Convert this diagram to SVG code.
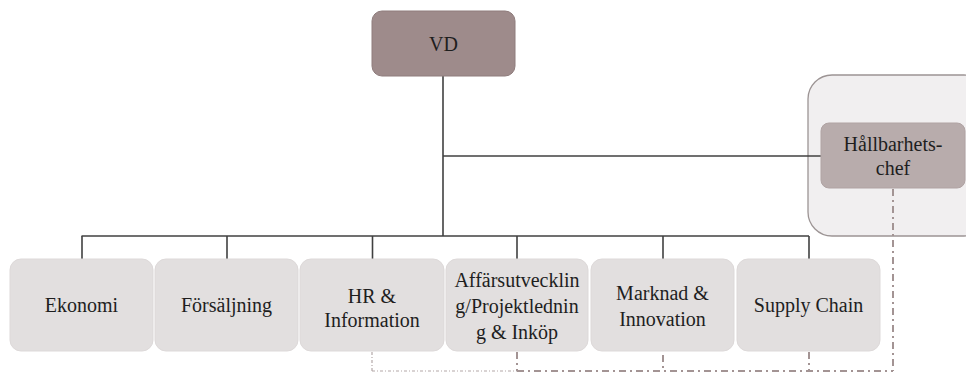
<svg xmlns="http://www.w3.org/2000/svg" width="966" height="374" viewBox="0 0 966 374">
  <defs>
    <style>
      text { font-family: "Liberation Serif", "Times New Roman", serif; font-size: 20px; fill: #1e1e1e; text-anchor: middle; }
      .unit { fill: #e2dfdf; stroke: #ddd9d9; stroke-width: 1; }
      .head { fill: #9e8b8b; stroke: #8f7d7d; stroke-width: 1; }
      .staff { fill: #b8acac; stroke: #b0a3a3; stroke-width: 1; }
      .panel { fill: #f1eff0; stroke: #9c9494; stroke-width: 1.3; }
      .solid { stroke: #404040; stroke-width: 1.6; fill: none; }
      .dotted { stroke: #a39494; stroke-width: 2; fill: none; stroke-dasharray: 7 4 2 4; }
      .fine { stroke: #b3a8a8; stroke-width: 1.2; fill: none; stroke-dasharray: 3 2 1 2; }
    </style>
  </defs>

  <!-- staff panel behind the sustainability role -->
  <g id="panel">
    <rect class="panel" x="808" y="75" width="180" height="161" rx="24"/>
  </g>

  <g id="connectors">
    <!-- reporting lines -->
    <line class="solid" x1="443" y1="76" x2="443" y2="236"/>
    <line class="solid" x1="443" y1="156" x2="821" y2="156"/>
    <line class="solid" x1="81.5" y1="236" x2="809" y2="236"/>
    <line class="solid" x1="82" y1="236" x2="82" y2="259"/>
    <line class="solid" x1="227" y1="236" x2="227" y2="259"/>
    <line class="solid" x1="372.5" y1="236" x2="372.5" y2="259"/>
    <line class="solid" x1="517" y1="236" x2="517" y2="259"/>
    <line class="solid" x1="663" y1="236" x2="663" y2="259"/>
    <line class="solid" x1="809" y1="236" x2="809" y2="259"/>
    <!-- functional lines to the sustainability role -->
    <line class="dotted" x1="893" y1="189" x2="893" y2="371"/>
    <line class="fine" x1="372" y1="352" x2="372" y2="371"/>
    <line class="fine" x1="372" y1="371" x2="517" y2="371"/>
    <line class="dotted" x1="517" y1="371" x2="893" y2="371"/>
    <line class="dotted" x1="517" y1="352" x2="517" y2="371"/>
    <line class="dotted" x1="663" y1="355" x2="663" y2="371"/>
    <line class="dotted" x1="809" y1="352" x2="809" y2="371"/>
  </g>

  <g id="vd">
    <rect class="head" x="372" y="11" width="143" height="65" rx="10"/>
    <text x="443.5" y="51">VD</text>
  </g>

  <g id="hallbarhetschef">
    <rect class="staff" x="821" y="123" width="144" height="65" rx="8"/>
    <text x="893" y="151">Hållbarhets-</text>
    <text x="893" y="175">chef</text>
  </g>

  <g id="ekonomi">
    <rect class="unit" x="10" y="259" width="143" height="92" rx="11"/>
    <text x="81.5" y="312">Ekonomi</text>
  </g>

  <g id="forsaljning">
    <rect class="unit" x="155" y="259" width="143" height="92" rx="11"/>
    <text x="226.5" y="312">Försäljning</text>
  </g>

  <g id="hr-information">
    <rect class="unit" x="300" y="259" width="144" height="92" rx="11"/>
    <text x="372" y="303">HR &amp;</text>
    <text x="372" y="327">Information</text>
  </g>

  <g id="affarsutveckling">
    <rect class="unit" x="446" y="259" width="142" height="92" rx="11"/>
    <text x="517" y="287">Affärsutvecklin</text>
    <text x="517" y="313">g/Projektlednin</text>
    <text x="517" y="339">g &amp; Inköp</text>
  </g>

  <g id="marknad-innovation">
    <rect class="unit" x="591" y="259" width="143" height="92" rx="11"/>
    <text x="662.5" y="300">Marknad &amp;</text>
    <text x="662.5" y="326">Innovation</text>
  </g>

  <g id="supply-chain">
    <rect class="unit" x="737" y="259" width="143" height="92" rx="11"/>
    <text x="808.5" y="312">Supply Chain</text>
  </g>
</svg>
